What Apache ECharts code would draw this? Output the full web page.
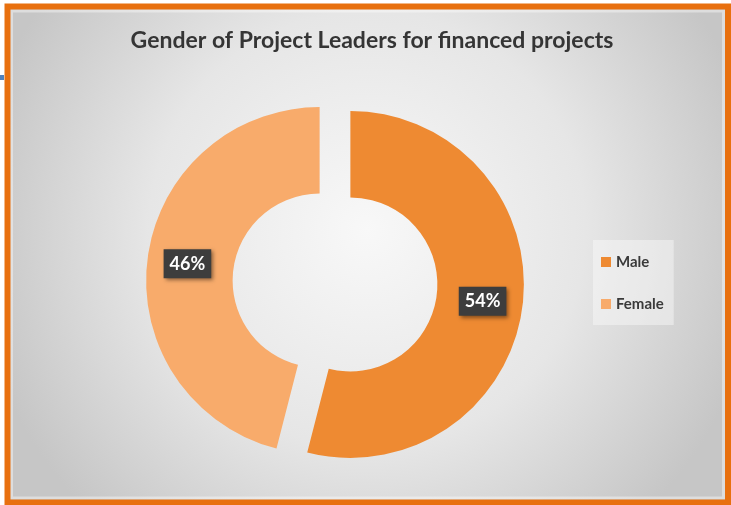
<!DOCTYPE html>
<html>
<head>
<meta charset="utf-8">
<script src="https://cdn.jsdelivr.net/npm/echarts@6/dist/echarts.min.js"></script>
<style>
  html, body { margin: 0; padding: 0; background: #fff; }
  #main { width: 731px; height: 505px; }
</style>
</head>
<body>
<div id="main"></div>
<script>
// data
const categories = ["Male", "Female"];
const shares = [54, 46];

const colors = ["#EE8A32", "#F8AB6B"];
const fontFam = "Lato, 'Open Sans', sans-serif";

const chart = echarts.init(document.getElementById("main"));

const pieData = categories.map((name, i) => ({
  name: name,
  value: shares[i],
  selected: true,
  itemStyle: { color: colors[i] },
  select: { itemStyle: { color: colors[i], borderWidth: 0 } }
}));

const option = {
  animation: false,
  backgroundColor: "#ffffff",
  title: {
    text: "Gender of Project Leaders for financed projects",
    left: 367,
    textAlign: "center",
    top: 24,
    textStyle: {
      fontFamily: fontFam,
      fontSize: 23,
      fontWeight: "bold",
      color: "#353535"
    }
  },
  legend: {
    orient: "vertical",
    left: 593,
    top: 240,
    data: categories,
    icon: "rect",
    itemWidth: 10,
    itemHeight: 10,
    itemGap: 24,
    padding: [13, 10, 12, 8],
    backgroundColor: "rgba(250,250,250,0.45)",
    selectedMode: false,
    textStyle: {
      fontFamily: fontFam,
      fontSize: 15,
      fontWeight: "bold",
      color: "#3a3a3a",
      lineHeight: 18
    }
  },
  graphic: [
    {
      type: "rect",
      z: -10,
      silent: true,
      shape: { x: 7, y: 6.5, width: 721, height: 496 },
      style: {
        fill: new echarts.graphic.RadialGradient(0.5, 0.45, 0.8, [
          { offset: 0, color: "#f8f8f8" },
          { offset: 0.55, color: "#e6e6e6" },
          { offset: 1, color: "#c6c6c6" }
        ])
      }
    },
    {
      type: "rect",
      z: -5,
      silent: true,
      shape: { x: 11.5, y: 11, width: 712, height: 487 },
      style: { fill: null, stroke: "rgba(255,255,255,0.4)", lineWidth: 3 }
    },
    {
      type: "rect",
      z: 100,
      silent: true,
      shape: { x: 7.5, y: 6.5, width: 720.5, height: 496 },
      style: { fill: null, stroke: "#E8700F", lineWidth: 6 }
    },
    {
      type: "rect",
      z: 100,
      silent: true,
      shape: { x: 0, y: 75, width: 4, height: 5 },
      style: { fill: "#4f81bd" }
    }
  ],
  series: [
    {
      type: "pie",
      center: [335, 282.5],
      radius: [87, 173.5],
      startAngle: 90,
      clockwise: true,
      selectedMode: "multiple",
      selectedOffset: 15.5,
      avoidLabelOverlap: false,
      emphasis: { disabled: true },
      label: {
        show: true,
        position: "inside",
        formatter: "{c}%",
        fontFamily: fontFam,
        fontSize: 18,
        fontWeight: "bold",
        color: "#ffffff",
        backgroundColor: "#3d3d3d",
        padding: [6, 6, 5, 6],
        shadowColor: "rgba(0,0,0,0.45)",
        shadowBlur: 4,
        shadowOffsetX: 2,
        shadowOffsetY: 2
      },
      labelLine: { show: false },
      data: pieData
    }
  ]
};

chart.setOption(option);
</script>
</body>
</html>
